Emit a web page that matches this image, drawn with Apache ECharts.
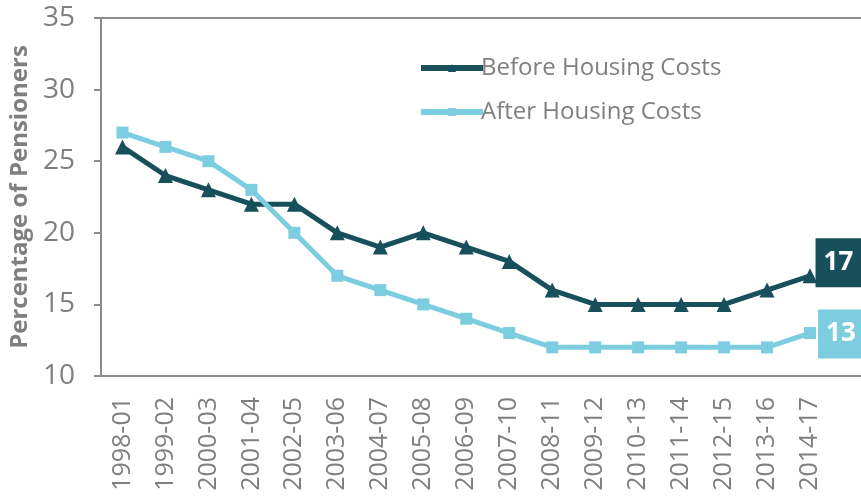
<!DOCTYPE html>
<html>
<head>
<meta charset="utf-8">
<script src="https://cdn.jsdelivr.net/npm/echarts@6/dist/echarts.min.js"></script>
<style>html,body{margin:0;padding:0;background:#fff}#c{width:861px;height:496px}</style>
</head>
<body>
<div id="c"></div>
<script>
const categories = ['1998-01','1999-02','2000-03','2001-04','2002-05','2003-06','2004-07','2005-08','2006-09','2007-10','2008-11','2009-12','2010-13','2011-14','2012-15','2013-16','2014-17'];
const beforeHousing = [26,24,23,22,22,20,19,20,19,18,16,15,15,15,15,16,17];
const afterHousing = [27,26,25,23,20,17,16,15,14,13,12,12,12,12,12,12,13];
const yTicks = {min: 10, max: 35, interval: 5};

const DARK = '#174f5b';
const LIGHT = '#7dcde0';
const GREY = '#7f7f7f';
const AXIS = '#8c8c8c';
const FONT = 'Open Sans';

function withEndLabel(values, color, offset, distance) {
  return values.map((v, i) => i === values.length - 1 ? {
    value: v,
    label: {
      show: true, position: 'right', distance: distance, offset: offset,
      formatter: '{c}', color: '#fff', fontFamily: FONT, fontWeight: 'bold',
      fontSize: 26, lineHeight: 29, backgroundColor: color, padding: [10, 8]
    }
  } : v);
}

const chart = echarts.init(document.getElementById('c'));
chart.setOption({
  animation: false,
  textStyle: {fontFamily: FONT},
  grid: [
    {left: 101, right: 29.5, top: 18, bottom: 120},
    {left: 101, right: 0, top: 18, bottom: 120}
  ],
  legend: {
    orient: 'vertical', left: 418, top: 56, padding: 0, itemWidth: 62, itemHeight: 10, itemGap: 20,
    lineStyle: {width: 6},
    textStyle: {color: GREY, fontSize: 24, lineHeight: 24, fontFamily: FONT, padding: [0, 0, 0, -7]},
    data: ['Before Housing Costs', 'After Housing Costs']
  },
  xAxis: [
    {
      type: 'category', data: categories, gridIndex: 0, boundaryGap: true,
      axisLine: {show: false}, axisTick: {show: false},
      axisLabel: {rotate: 90, margin: 21, color: GREY, fontSize: 25, fontFamily: FONT, interval: 0}
    },
    {
      type: 'value', gridIndex: 1, position: 'bottom',
      axisLine: {show: true, lineStyle: {color: AXIS, width: 2}},
      axisTick: {show: false}, axisLabel: {show: false}, splitLine: {show: false}
    },
    {
      type: 'value', gridIndex: 1, position: 'top',
      axisLine: {show: true, lineStyle: {color: AXIS, width: 2}},
      axisTick: {show: false}, axisLabel: {show: false}, splitLine: {show: false}
    }
  ],
  yAxis: [
    {
      type: 'value', gridIndex: 0, min: yTicks.min, max: yTicks.max, interval: yTicks.interval,
      name: 'Percentage of Pensioners', nameLocation: 'middle', nameGap: 64, nameRotate: 90,
      nameTextStyle: {color: GREY, fontSize: 24, fontWeight: 'bold', fontFamily: FONT},
      axisLine: {show: true, lineStyle: {color: AXIS, width: 2}},
      axisTick: {show: true, inside: false, length: 7, lineStyle: {color: AXIS, width: 2}},
      axisLabel: {color: GREY, fontSize: 28, margin: 26, fontFamily: FONT},
      splitLine: {show: false}
    },
    {
      type: 'value', gridIndex: 1, show: false
    }
  ],
  series: [
    {
      name: 'Before Housing Costs', type: 'line', xAxisIndex: 0, yAxisIndex: 0,
      data: withEndLabel(beforeHousing, DARK, [0, -13], -2),
      symbol: 'triangle', symbolSize: 15,
      lineStyle: {color: DARK, width: 5}, itemStyle: {color: DARK}
    },
    {
      name: 'After Housing Costs', type: 'line', xAxisIndex: 0, yAxisIndex: 0,
      data: withEndLabel(afterHousing, LIGHT, [0, 1], 2),
      symbol: 'rect', symbolSize: 12,
      lineStyle: {color: LIGHT, width: 5}, itemStyle: {color: LIGHT}
    }
  ]
});
</script>
</body>
</html>
